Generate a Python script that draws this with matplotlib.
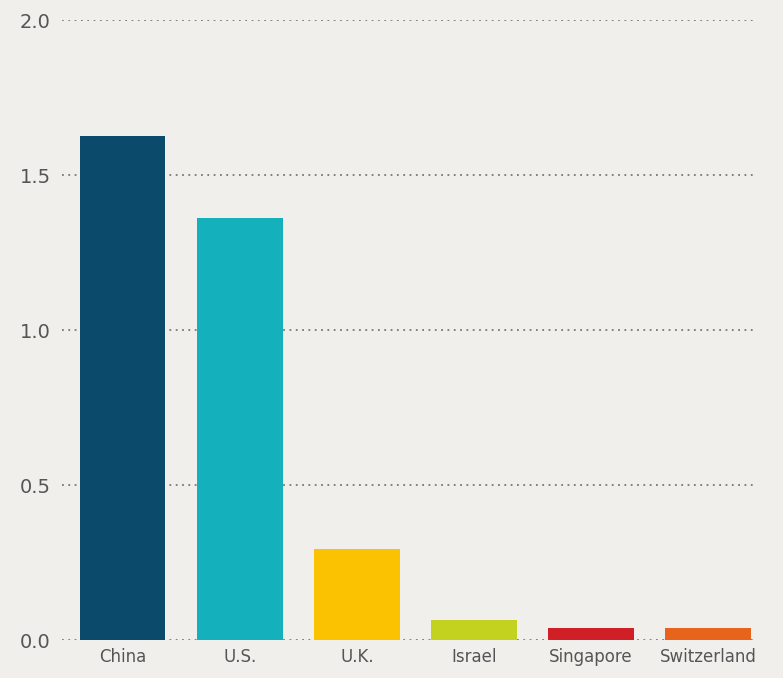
import matplotlib.pyplot as plt

countries = ['China', 'U.S.', 'U.K.', 'Israel', 'Singapore', 'Switzerland']
values = [1.625, 1.36, 0.295, 0.065, 0.04, 0.04]
colors = ['#0b4a6a', '#14b1bc', '#fac200', '#c2d21f', '#d01f26', '#e8641c']
yticks = [0.0, 0.5, 1.0, 1.5, 2.0]

bg = '#f0efeb'
fig = plt.figure(figsize=(7.83, 6.78), dpi=100, facecolor=bg)
ax = fig.add_axes([0.079, 0.056, 0.885, 0.9145], facecolor=bg)

ax.set_axisbelow(True)
ax.yaxis.grid(True, linestyle=(0, (1, 2.5)), color='#777777', linewidth=1.3)
x = range(len(countries))
ax.bar(x, values, width=0.73, color=colors, zorder=3)

ax.set_ylim(0, 2.0)
ax.set_xlim(-0.52, 5.4)
ax.set_yticks(yticks)
ax.set_yticklabels(['%.1f' % v for v in yticks])
ax.set_xticks(list(x))
ax.set_xticklabels(countries)
ax.tick_params(axis='both', length=0, colors='#555555')
ax.tick_params(axis='y', labelsize=14, pad=8)
ax.tick_params(axis='x', labelsize=12, pad=6)
for s in ax.spines.values():
    s.set_visible(False)

fig.savefig('out.png', dpi=100, facecolor=bg)
